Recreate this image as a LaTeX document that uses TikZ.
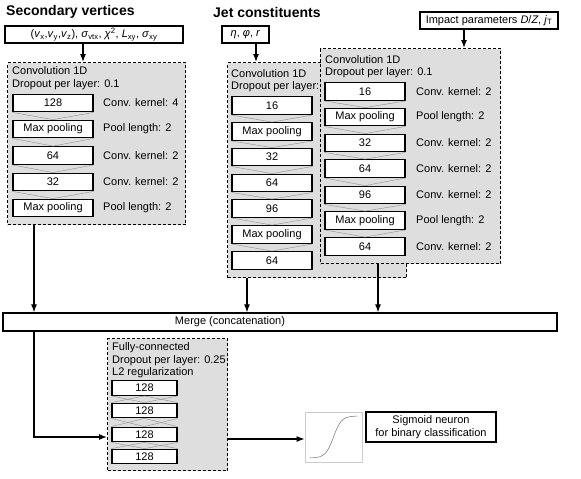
\documentclass[tikz,border=0pt]{standalone}
\usepackage{fontspec}
\setmainfont{Liberation Sans}
\usetikzlibrary{arrows.meta}
\newcommand{\sbs}[1]{\textsubscript{#1}}
\begin{document}
\begin{tikzpicture}[x=1pt,y=-1pt,
  font=\fontsize{11}{13}\selectfont,
  container/.style={draw, fill=black!13, line width=1.4pt, dash pattern=on 3pt off 2pt, anchor=north west, inner sep=0pt},
  layer/.style={draw, fill=white, line width=1.3pt, minimum width=80pt, minimum height=17.5pt, inner sep=0pt},
  fclayer/.style={layer, minimum width=65pt, minimum height=14.5pt},
  inbox/.style={draw, fill=white, line width=1.3pt, minimum height=17pt, inner sep=0pt},
  lbl/.style={anchor=west, inner sep=0pt},
  title/.style={anchor=west, inner sep=0pt, font=\fontsize{14}{16}\selectfont\bfseries},
  link/.style={draw=black!45, line width=0.4pt},
  arr/.style={line width=1.2pt, -{Latex[length=8pt,width=6pt]}}]
\useasboundingbox (0,0) rectangle (581,479);

% titles
\node[title] (t1) at (6,12) {Secondary vertices};
\node[title] (t2) at (213,12) {Jet constituents};

% inputs
\node[inbox, minimum width=178pt] (in1) at (94,34.5) {(\textit{v}\sbs{x},\textit{v}\sbs{y},\textit{v}\sbs{z}), \textit{σ}\sbs{vtx}, \textit{χ}\textsuperscript{2}, \textit{L}\sbs{xy}, \textit{σ}\sbs{xy}};
\node[inbox, minimum width=47pt] (in2) at (245.5,34.5) {\textit{η}, \textit{φ}, \textit{r}};
\node[inbox, minimum width=138pt] (in3) at (489,20.5) {Impact parameters \textit{D}/\textit{Z}, \textit{j}\sbs{T}};

% containers
\node[container, minimum width=178pt, minimum height=162pt] (b1) at (7,62) {};
\node[container, minimum width=179pt, minimum height=215pt] (b2) at (227,62) {};
\node[lbl] (b2a) at (231,74) {Convolution 1D};
\node[lbl] (b2b) at (231,87) {Dropout per layer: 0.1};
\node[container, minimum width=180pt, minimum height=215pt] (b3) at (320,48) {};

% box 1 content
\node[lbl] (b1a) at (12,71) {Convolution 1D};
\node[lbl] (b1b) at (12,85) {Dropout per layer: 0.1};
\node[layer] (p1) at (53,103) {128};
\node[layer] (p2) at (53,129) {Max pooling};
\node[layer] (p3) at (53,155.5) {64};
\node[layer] (p4) at (53,182) {32};
\node[layer] (p5) at (53,208) {Max pooling};
\node[lbl] (l1) at (103,103) {Conv. kernel: 4};
\node[lbl] (l2) at (103,129) {Pool length: 2};
\node[lbl] (l3) at (103,155.5) {Conv. kernel: 2};
\node[lbl] (l4) at (103,182) {Conv. kernel: 2};
\node[lbl] (l5) at (103,208) {Pool length: 2};
\foreach \a/\b in {p1/p2,p2/p3,p3/p4,p4/p5}{
  \draw[link] (\a.south west) -- (\b.north) -- (\a.south east);}

% box 2 content
\node[layer] (q1) at (272,105.5) {16};
\node[layer] (q2) at (272,131.5) {Max pooling};
\node[layer] (q3) at (272,157) {32};
\node[layer] (q4) at (272,183) {64};
\node[layer] (q5) at (272,208.5) {96};
\node[layer] (q6) at (272,234.5) {Max pooling};
\node[layer] (q7) at (272,260.5) {64};
\foreach \a/\b in {q1/q2,q2/q3,q3/q4,q4/q5,q5/q6,q6/q7}{
  \draw[link] (\a.south west) -- (\b.north) -- (\a.south east);}

% box 3 content
\node[lbl] (b3a) at (325,60) {Convolution 1D};
\node[lbl] (b3b) at (325,73) {Dropout per layer: 0.1};
\node[layer] (r1) at (365,91.5) {16};
\node[layer] (r2) at (365,117) {Max pooling};
\node[layer] (r3) at (365,143) {32};
\node[layer] (r4) at (365,168.5) {64};
\node[layer] (r5) at (365,195) {96};
\node[layer] (r6) at (365,220.5) {Max pooling};
\node[layer] (r7) at (365,246.5) {64};
\node[lbl] (m1) at (416,91.5) {Conv. kernel: 2};
\node[lbl] (m2) at (416,117) {Pool length: 2};
\node[lbl] (m3) at (416,143) {Conv. kernel: 2};
\node[lbl] (m4) at (416,168.5) {Conv. kernel: 2};
\node[lbl] (m5) at (416,195) {Conv. kernel: 2};
\node[lbl] (m6) at (416,220.5) {Pool length: 2};
\node[lbl] (m7) at (416,246.5) {Conv. kernel: 2};
\foreach \a/\b in {r1/r2,r2/r3,r3/r4,r4/r5,r5/r6,r6/r7}{
  \draw[link] (\a.south west) -- (\b.north) -- (\a.south east);}

% merge
\node[inbox, minimum width=554pt, minimum height=18pt] (mg) at (280,322) {};
\node[inner sep=0pt] (mgt) at (230,322) {Merge (concatenation)};

% fully connected
\node[container, minimum width=120pt, minimum height=132pt] (fc) at (107,338) {};
\node[lbl] (fca) at (112,348) {Fully-connected};
\node[lbl] (fcb) at (112,361) {Dropout per layer: 0.25};
\node[lbl] (fcc) at (112,373) {L2 regularization};
\node[fclayer] (f1) at (144.5,388) {128};
\node[fclayer] (f2) at (144.5,410.5) {128};
\node[fclayer] (f3) at (144.5,434.5) {128};
\node[fclayer] (f4) at (144.5,456.5) {128};
\foreach \a/\b in {f1/f2,f2/f3,f3/f4}{
  \draw[link] (\a.south west) -- (\b.north) -- (\a.south east);
  \draw[link] (\b.north west) -- (\a.south) -- (\b.north east);}

% sigmoid
\node[draw=black!20, line width=0.8pt, minimum width=57pt, minimum height=50pt, inner sep=0pt] (sg) at (333.5,437) {};
\draw[black!55, line width=0.5pt, domain=-1:1, samples=60, variable=\t]
  plot ({333.5+24*\t}, {437-21*tanh(3*\t)});
\node[inbox, minimum width=130pt, minimum height=30pt, align=center, font=\fontsize{11}{13}\selectfont] (sn) at (431,427) {Sigmoid neuron\\for binary classification};

% coordinates for connectors
\coordinate (x1) at (83,0);
\coordinate (x2) at (256,0);
\coordinate (x3) at (464,0);
\coordinate (y1) at (34,0);
\coordinate (y2) at (247,0);
\coordinate (y3) at (378,0);
\coordinate (bend) at (34,437);
\coordinate (ysg) at (0,439);

\draw[arr] (in1.south -| x1) -- (b1.north -| x1);
\draw[arr] (in2.south -| x2) -- (b2.north -| x2);
\draw[arr] (in3.south -| x3) -- (b3.north -| x3);
\draw[arr] (b1.south -| y1) -- (mg.north -| y1);
\draw[arr] (b2.south -| y2) -- (mg.north -| y2);
\draw[arr] (b3.south -| y3) -- (mg.north -| y3);
\draw[arr] (mg.south -| y1) -- (bend) -- (fc.west |- bend);
\draw[arr] (fc.east |- ysg) -- (sg.west |- ysg);
\end{tikzpicture}
\end{document}
